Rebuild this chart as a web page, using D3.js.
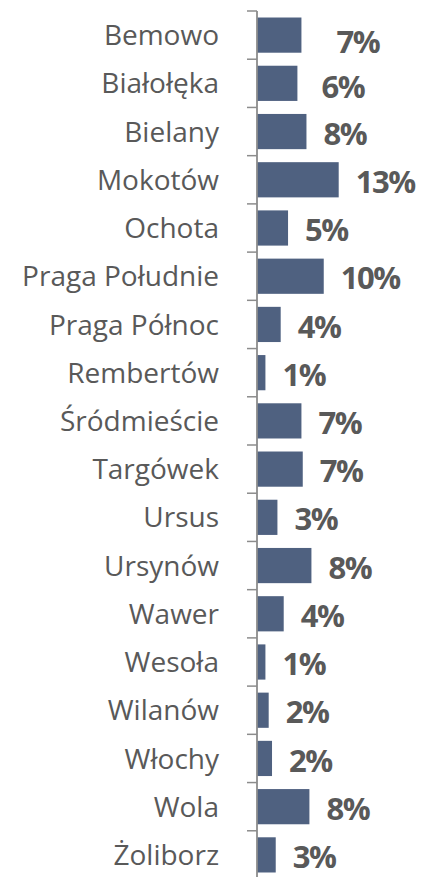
<!DOCTYPE html>
<html>
<head>
<meta charset="utf-8">
<script src="https://cdn.jsdelivr.net/npm/d3@7"></script>
<style>
  body { margin: 0; background: #fff; }
  svg { display: block; }
</style>
</head>
<body>
<svg id="chart"></svg>
<script>
// Districts (top to bottom)
const districts = ["Bemowo", "Białołęka", "Bielany", "Mokotów", "Ochota", "Praga Południe",
    "Praga Północ", "Rembertów", "Śródmieście", "Targówek", "Ursus", "Ursynów",
    "Wawer", "Wesoła", "Wilanów", "Włochy", "Wola", "Żoliborz"];

// Share of each district (percent)
const shares = [7.07, 6.43, 7.87, 13.0, 4.94, 10.62, 3.77, 1.34, 7.07, 7.28,
    3.25, 8.66, 4.25, 1.34, 1.86, 2.39, 8.34, 2.98];

// Labels printed next to the bars
const shareLabels = ["7%", "6%", "8%", "13%", "5%", "10%", "4%", "1%", "7%", "7%",
    "3%", "8%", "4%", "1%", "2%", "2%", "8%", "3%"];

const dimensions = {
    width: 426,
    height: 877,
    axisX: 257,
    top: 11,
    bottom: 879,
};

const data = districts.map((d, i) => ({ name: d, value: shares[i], label: shareLabels[i] }));

const svg = d3.select("#chart")
    .attr("width", dimensions.width)
    .attr("height", dimensions.height);

const yScale = d3.scaleBand()
    .domain(districts)
    .range([dimensions.top, dimensions.bottom])
    .paddingInner(0.27)
    .paddingOuter(0.135);

const xScale = d3.scaleLinear()
    .domain([0, 13])
    .range([dimensions.axisX, dimensions.axisX + 81.7]);

// a couple of labels sit a bit off in the original
const labelNudge = { "Bemowo": [18, 5], "Białołęka": [7, 2] };

// Bars
svg.append("g")
    .selectAll("rect")
    .data(data)
    .enter()
    .append("rect")
    .attr("x", xScale(0))
    .attr("y", d => yScale(d.name))
    .attr("width", d => xScale(d.value) - xScale(0))
    .attr("height", yScale.bandwidth())
    .attr("fill", "#4f6180");

// Category axis: line + ticks at band boundaries
const gap = (yScale.step() - yScale.bandwidth()) / 2;
const axis = svg.append("g");
axis.append("line")
    .attr("x1", dimensions.axisX).attr("x2", dimensions.axisX)
    .attr("y1", yScale(districts[0]) - gap)
    .attr("y2", dimensions.height)
    .attr("stroke", "#8c8c8c")
    .attr("stroke-width", 1.8);
axis.selectAll(".tick")
    .data(districts)
    .enter()
    .append("line")
    .attr("class", "tick")
    .attr("x1", dimensions.axisX - 10).attr("x2", dimensions.axisX)
    .attr("y1", d => yScale(d) - gap)
    .attr("y2", d => yScale(d) - gap)
    .attr("stroke", "#8c8c8c")
    .attr("stroke-width", 1.5);

// Category labels
svg.append("g")
    .selectAll("text")
    .data(data)
    .enter()
    .append("text")
    .attr("x", 219)
    .attr("y", d => yScale(d.name) + yScale.bandwidth() / 2)
    .attr("dy", "0.36em")
    .attr("text-anchor", "end")
    .style("font-family", "'Open Sans', sans-serif")
    .style("font-size", "28px")
    .attr("fill", "#595959")
    .text(d => d.name);

// Value labels
svg.append("g")
    .selectAll("text")
    .data(data)
    .enter()
    .append("text")
    .attr("x", d => xScale(d.value) + 17 + (labelNudge[d.name] ? labelNudge[d.name][0] : 0))
    .attr("y", d => yScale(d.name) + yScale.bandwidth() / 2 + 2 + (labelNudge[d.name] ? labelNudge[d.name][1] : 0))
    .attr("dy", "0.36em")
    .style("font-family", "'Open Sans', sans-serif")
    .style("font-size", "31px")
    .style("font-weight", "bold")
    .style("letter-spacing", "-1.5px")
    .attr("fill", "#595959")
    .text(d => d.label);
</script>
</body>
</html>
